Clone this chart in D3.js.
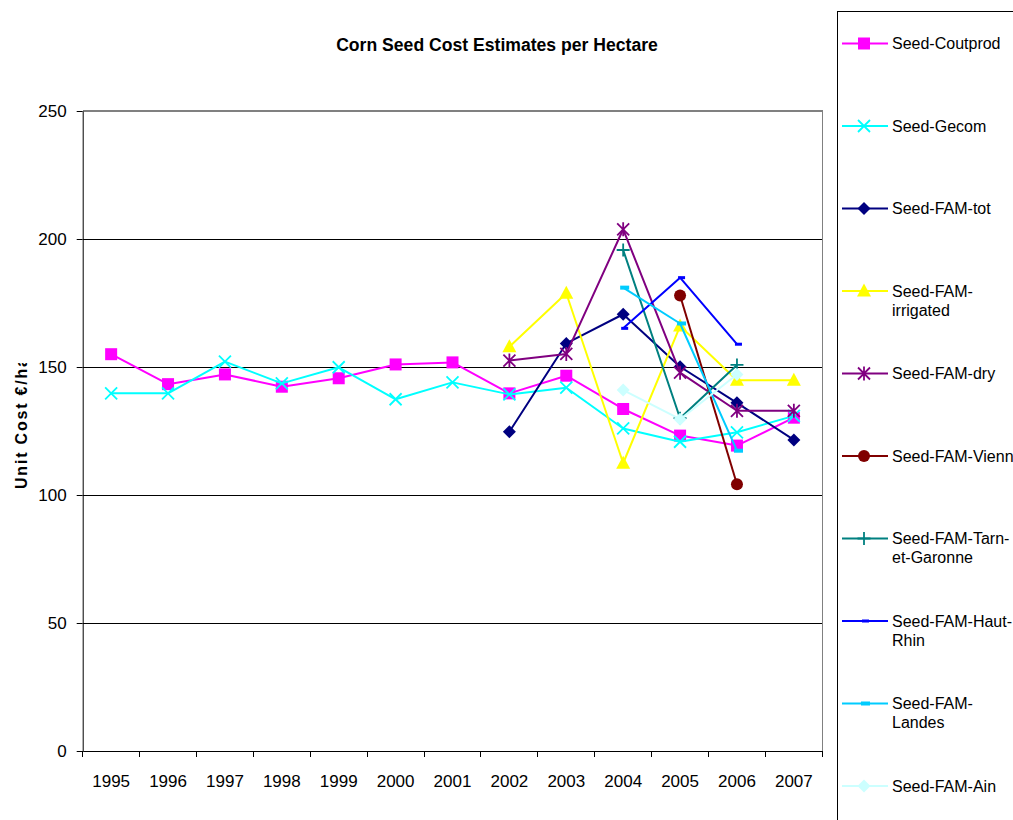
<!DOCTYPE html>
<html>
<head>
<meta charset="utf-8">
<script src="https://cdn.jsdelivr.net/npm/d3@7"></script>
<style>
  html, body { margin: 0; padding: 0; background: #fff; }
  svg { display: block; font-family: "Liberation Sans", Arial, sans-serif; }
</style>
</head>
<body>
<svg id="chart" width="1013" height="820"></svg>
<script>
// ---- data ----
const years = ["1995","1996","1997","1998","1999","2000","2001","2002","2003","2004","2005","2006","2007"];
const yTicks = [0, 50, 100, 150, 200, 250];
const chartTitle = "Corn Seed Cost Estimates per Hectare";
const yTitle = "Unit Cost €/ha";

const seedCoutprod   = [155, 143.3, 147.1, 142.3, 145.6, 151, 151.8, 139.7, 146.6, 133.6, 123.2, 119.3, 130.2];
const seedGecom      = [139.7, 139.7, 152.1, 143.6, 149.9, 137.4, 144, 139.3, 141.9, 126, 120.8, 124.5, 130.9];
const seedFamTot     = [null, null, null, null, null, null, null, 124.7, 159.2, 170.6, 150.1, 136, 121.5];
const seedFamIrr     = [null, null, null, null, null, null, null, 157.9, 178.8, 112.4, 166, 144.8, 144.8];
const seedFamDry     = [null, null, null, null, null, null, null, 152.5, 155.1, 203.8, 147.8, 132.9, 132.9];
const seedFamVienn   = [null, null, null, null, null, null, null, null, null, null, 177.9, 104.2, null];
const seedFamTarn    = [null, null, null, null, null, null, null, null, null, 195.7, 130, 150.8, null];
const seedFamHautRhin= [null, null, null, null, null, null, null, null, null, 165.1, 184.9, 158.9, null];
const seedFamLandes  = [null, null, null, null, null, null, null, null, null, 181, 167, 117.3, null];
const seedFamAin     = [null, null, null, null, null, null, null, null, null, 141, 129.6, 147.1, null];

const seriesNames  = ["Seed-Coutprod","Seed-Gecom","Seed-FAM-tot","Seed-FAM-irrigated","Seed-FAM-dry","Seed-FAM-Vienn","Seed-FAM-Tarn-et-Garonne","Seed-FAM-Haut-Rhin","Seed-FAM-Landes","Seed-FAM-Ain"];
const legendLines  = [["Seed-Coutprod"],["Seed-Gecom"],["Seed-FAM-tot"],["Seed-FAM-","irrigated"],["Seed-FAM-dry"],["Seed-FAM-Vienn"],["Seed-FAM-Tarn-","et-Garonne"],["Seed-FAM-Haut-","Rhin"],["Seed-FAM-","Landes"],["Seed-FAM-Ain"]];
const seriesValues = [seedCoutprod, seedGecom, seedFamTot, seedFamIrr, seedFamDry, seedFamVienn, seedFamTarn, seedFamHautRhin, seedFamLandes, seedFamAin];
const seriesColors = ["#FF00FF","#00FFFF","#000080","#FFFF00","#800080","#800000","#008080","#0000FF","#00CCFF","#CCFFFF"];
const seriesMarkers= ["square","x","diamond","triangle","star","circle","plus","dash","dashwide","diamond"];

// ---- layout ----
const svg = d3.select("#chart");
const L = 82.7, R = 822.3, T = 111, B = 751;
const x = d3.scaleBand().domain(years).range([L, R]);
const y = d3.scaleLinear().domain([0, 250]).range([B, T]);

// title
svg.append("text").attr("x", 497).attr("y", 51).attr("text-anchor", "middle")
  .style("font-size", "17.6px").style("font-weight", "bold").text(chartTitle);

// y axis title (clipped like the original)
svg.append("clipPath").attr("id", "ytclip").append("rect")
  .attr("x", 0).attr("y", 363).attr("width", 40).attr("height", 200);
svg.append("g").attr("clip-path", "url(#ytclip)")
  .append("text")
  .attr("transform", "translate(26.5,489) rotate(-90)")
  .attr("text-anchor", "start")
  .attr("textLength", 131).attr("lengthAdjust", "spacing")
  .style("font-size", "16px").style("font-weight", "bold").text(yTitle);

// gridlines
svg.append("g").selectAll("line").data(yTicks.filter(d => d > 0 && d < 250)).join("line")
  .attr("x1", L).attr("x2", R).attr("y1", d => y(d)).attr("y2", d => y(d))
  .attr("stroke", "#000").attr("stroke-width", 1).attr("shape-rendering", "crispEdges");

// plot frame (top/right gray)
svg.append("path")
  .attr("d", `M${L},${y(250)}H${R}V${B}`)
  .attr("fill", "none").attr("stroke", "#808080").attr("stroke-width", 1.2).attr("shape-rendering", "crispEdges");

// y axis
const yAxis = svg.append("g").attr("transform", `translate(${L},0)`)
  .call(d3.axisLeft(y).tickValues(yTicks).tickSize(6).tickPadding(10).tickSizeOuter(0));
yAxis.select(".domain").attr("stroke", "#000");
yAxis.selectAll("text").style("font-size", "17px").style("font-family", "'Liberation Sans', Arial, sans-serif").attr("fill", "#000");

// x axis
const xAxis = svg.append("g").attr("transform", `translate(0,${B})`)
  .call(d3.axisBottom(x).tickSize(0).tickPadding(24).tickSizeOuter(0));
xAxis.select(".domain").attr("stroke", "#000");
xAxis.selectAll("text").style("font-size", "17px").style("font-family", "'Liberation Sans', Arial, sans-serif").attr("fill", "#000");
// x tick marks at category boundaries
const bounds = years.map(d => x(d)).concat([x(years[years.length - 1]) + x.bandwidth()]);
xAxis.append("g").selectAll("line").data(bounds).join("line")
  .attr("x1", d => d).attr("x2", d => d).attr("y1", 0).attr("y2", 6)
  .attr("stroke", "#000").attr("shape-rendering", "crispEdges");

// markers
function drawMarker(g, type, cx, cy, color) {
  const s = 6;
  switch (type) {
    case "square":
      g.append("rect").attr("x", cx - s).attr("y", cy - s).attr("width", 2 * s).attr("height", 2 * s).attr("fill", color);
      break;
    case "diamond":
      g.append("path").attr("d", `M${cx},${cy - 6.5}L${cx + 6.5},${cy}L${cx},${cy + 6.5}L${cx - 6.5},${cy}Z`).attr("fill", color);
      break;
    case "triangle":
      g.append("path").attr("d", `M${cx},${cy - 7.5}L${cx + 7},${cy + 5.5}L${cx - 7},${cy + 5.5}Z`).attr("fill", color);
      break;
    case "circle":
      g.append("circle").attr("cx", cx).attr("cy", cy).attr("r", 6).attr("fill", color);
      break;
    case "x":
      g.append("path").attr("d", `M${cx - 6},${cy - 6}L${cx + 6},${cy + 6}M${cx - 6},${cy + 6}L${cx + 6},${cy - 6}`)
        .attr("stroke", color).attr("stroke-width", 1.8).attr("fill", "none");
      break;
    case "star":
      g.append("path").attr("d", `M${cx - 6},${cy - 6}L${cx + 6},${cy + 6}M${cx - 6},${cy + 6}L${cx + 6},${cy - 6}M${cx},${cy - 7}L${cx},${cy + 7}`)
        .attr("stroke", color).attr("stroke-width", 1.8).attr("fill", "none");
      break;
    case "plus":
      g.append("path").attr("d", `M${cx - 6.5},${cy}L${cx + 6.5},${cy}M${cx},${cy - 6.5}L${cx},${cy + 6.5}`)
        .attr("stroke", color).attr("stroke-width", 1.8).attr("fill", "none");
      break;
    case "dash":
      g.append("rect").attr("x", cx - 2).attr("y", cy - 1.5).attr("width", 7).attr("height", 3).attr("fill", color);
      break;
    case "dashwide":
      g.append("rect").attr("x", cx - 3).attr("y", cy - 2).attr("width", 9).attr("height", 4).attr("fill", color);
      break;
  }
}

// series
const line = d3.line().defined(d => d.v != null).x(d => x(d.year) + x.bandwidth() / 2).y(d => y(d.v));
seriesValues.forEach((vals, i) => {
  const pts = years.map((yr, j) => ({ year: yr, v: vals[j] }));
  const g = svg.append("g").attr("class", "series");
  g.append("path").datum(pts).attr("d", line)
    .attr("fill", "none").attr("stroke", seriesColors[i]).attr("stroke-width", 2).attr("stroke-linejoin", "round");
  pts.filter(p => p.v != null).forEach(p => drawMarker(g, seriesMarkers[i], x(p.year) + x.bandwidth() / 2, y(p.v), seriesColors[i]));
});

// legend
svg.append("rect").attr("x", 837.5).attr("y", 11.5).attr("width", 200).attr("height", 830)
  .attr("fill", "#fff").attr("stroke", "#000").attr("stroke-width", 1);
const legendY0 = 43.5, legendStep = 82.5;
seriesNames.forEach((name, i) => {
  const ly = legendY0 + i * legendStep;
  const g = svg.append("g");
  g.append("line").attr("x1", 842).attr("x2", 888).attr("y1", ly).attr("y2", ly)
    .attr("stroke", seriesColors[i]).attr("stroke-width", 2);
  drawMarker(g, seriesMarkers[i], 864, ly, seriesColors[i]);
  const t = g.append("text").attr("x", 892).attr("y", ly + 5.5).style("font-size", "16px");
  legendLines[i].forEach((ln, k) => {
    t.append("tspan").attr("x", 892).attr("dy", k === 0 ? 0 : 19.4).text(ln);
  });
});
</script>
</body>
</html>
